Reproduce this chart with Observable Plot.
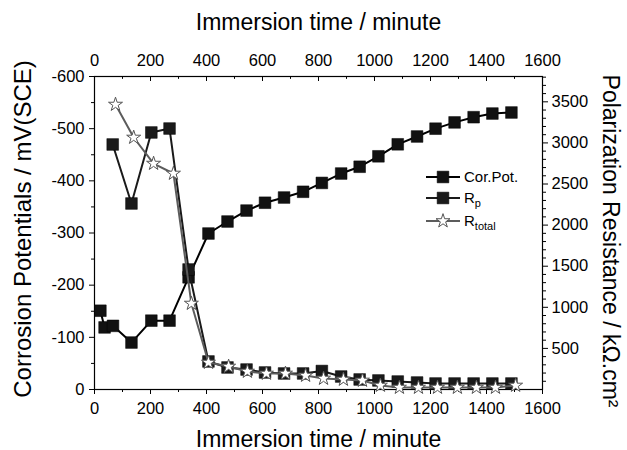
<!DOCTYPE html>
<html>
<head>
<meta charset="utf-8">
<script src="https://cdn.jsdelivr.net/npm/d3@7"></script>
<script src="https://cdn.jsdelivr.net/npm/@observablehq/plot@0.6"></script>
<style>
  html, body { margin: 0; padding: 0; background: #fff; }
  #wrap { position: relative; width: 627px; height: 450px; font-family: "Liberation Sans", Arial, sans-serif; }
  #legend { position: absolute; left: 424px; top: 166px; font-size: 15px; color: #000; }
  .row { position: absolute; left: 0; height: 20px; display: flex; align-items: center; white-space: nowrap; }
  .row svg { display: block; }
  .row span { margin-left: 4px; line-height: 20px; }
  sub { font-size: 11px; vertical-align: -4px; line-height: 0; }
</style>
</head>
<body>
<div id="wrap"></div>
<script>
// ---- data ----
const corTime = [21, 36, 66, 132, 203, 268, 336, 407, 475, 543, 609, 677, 745, 812, 881, 947, 1014, 1083, 1152, 1218, 1286, 1354, 1421, 1489];
const corPot  = [-151, -119, -122, -90, -132, -132, -215, -299, -322, -343, -358, -368, -379, -396, -414, -427, -447, -470, -485, -500, -512, -522, -529, -531];

const rpTime = [65, 132, 203, 268, 336, 407, 475, 543, 609, 677, 745, 812, 881, 947, 1014, 1083, 1152, 1218, 1286, 1354, 1421, 1489];
const rpVal  = [2981, 2263, 3127, 3175, 1460, 341, 268, 243, 207, 195, 195, 225, 158, 122, 110, 97, 85, 73, 73, 73, 73, 73];

const rtTime = [75, 140, 211, 282, 346, 407, 479, 546, 614, 682, 754, 818, 889, 957, 1021, 1089, 1157, 1225, 1296, 1364, 1432, 1504];
const rtVal  = [3467, 3066, 2749, 2628, 1046, 328, 280, 219, 195, 195, 170, 134, 122, 110, 49, 24, 24, 24, 24, 24, 24, 49];

const xTicks = [0, 200, 400, 600, 800, 1000, 1200, 1400, 1600];
const xMinorTicks = [100, 300, 500, 700, 900, 1100, 1300, 1500];
const leftTicks = [0, -100, -200, -300, -400, -500, -600];
const leftMinorTicks = [-50, -150, -250, -350, -450, -550];
const rightTicks = [500, 1000, 1500, 2000, 2500, 3000, 3500];
const rightMinorTicks = d3.range(100, 3801, 100).filter(v => v % 500 !== 0);

const xTitle = "Immersion time / minute";
const leftTitle = "Corrosion Potentials / mV(SCE)";
const rightTitle = "Polarization Resistance / kΩ.cm²";
const seriesNames = ["Cor.Pot.", "Rp", "Rtotal"];

// right axis domain mapped onto left scale
const rMin = 0, rMax = 3808;
const yTop = -600, yBottom = 0;
const toLeft = v => yTop * (v - rMin) / (rMax - rMin);
const fromLeft = y => rMin + (y / yTop) * (rMax - rMin);

const cor = corTime.map((t, i) => ({t, v: corPot[i]}));
const rp = rpTime.map((t, i) => ({t, v: toLeft(rpVal[i])}));
const rt = rtTime.map((t, i) => ({t, v: toLeft(rtVal[i])}));

const fs = 16.5;
const chart = Plot.plot({
  width: 627,
  height: 450,
  marginTop: 76,
  marginBottom: 61,
  marginLeft: 94,
  marginRight: 85,
  x: {domain: [0, 1600]},
  y: {domain: [yBottom, yTop]},
  style: {fontFamily: "'Liberation Sans', Arial, sans-serif", color: "#000", background: "#fff", overflow: "visible"},
  marks: [
    // bottom axis
    Plot.axisX({anchor: "bottom", ticks: xTicks, tickSize: 5, tickPadding: 8, tickFormat: d => String(d), fontSize: fs, label: null}),
    Plot.axisX({anchor: "bottom", ticks: xMinorTicks, tickSize: 3, tickFormat: () => "", label: null}),
    // top axis: labels, inward ticks
    Plot.axisX({anchor: "top", ticks: xTicks, tickSize: 0, tickPadding: 11, tickFormat: d => String(d), fontSize: fs, label: null}),
    Plot.ruleX(xTicks, {x: d => d, y1: yTop, y2: yTop + 9.6, stroke: "#000", strokeWidth: 1}),
    Plot.ruleX(xMinorTicks, {x: d => d, y1: yTop, y2: yTop + 5.5, stroke: "#000", strokeWidth: 1}),
    // left axis
    Plot.axisY({anchor: "left", ticks: leftTicks, tickSize: 5, tickPadding: 5, tickFormat: d => String(d), fontSize: fs, label: null}),
    Plot.axisY({anchor: "left", ticks: leftMinorTicks, tickSize: 3, tickFormat: () => "", label: null}),
    // right axis
    Plot.axisY({anchor: "right", ticks: rightTicks.map(toLeft), tickSize: 5, tickPadding: 4, tickFormat: d => String(Math.round(fromLeft(d))), fontSize: fs, label: null}),
    Plot.axisY({anchor: "right", ticks: rightMinorTicks.map(toLeft), tickSize: 3, tickFormat: () => "", label: null}),
    Plot.frame({stroke: "#000", strokeWidth: 1.2}),
    // series
    Plot.line(cor, {x: "t", y: "v", stroke: "#000", strokeWidth: 2}),
    Plot.dot(cor, {x: "t", y: "v", symbol: "square", r: 6.6, fill: "#111", stroke: "#000", strokeWidth: 0.5}),
    Plot.line(rp, {x: "t", y: "v", stroke: "#1a1a1a", strokeWidth: 2}),
    Plot.dot(rp, {x: "t", y: "v", symbol: "square", r: 6.6, fill: "#1a1a1a", stroke: "#000", strokeWidth: 0.5}),
    Plot.line(rt, {x: "t", y: "v", stroke: "#5c5c5c", strokeWidth: 2}),
    Plot.dot(rt, {x: "t", y: "v", symbol: "star", r: 4.4, fill: "#fff", stroke: "#555", strokeWidth: 1}),
    // titles
    Plot.text([xTitle], {text: d => d, frameAnchor: "top", dy: -47, fontSize: 23, lineAnchor: "bottom", textAnchor: "middle"}),
    Plot.text([xTitle], {text: d => d, frameAnchor: "bottom", dy: 57, fontSize: 23, lineAnchor: "bottom", textAnchor: "middle"}),
    Plot.text([leftTitle], {text: d => d, frameAnchor: "left", dx: -71, dy: -4, fontSize: 24, rotate: -90, lineAnchor: "middle", textAnchor: "middle"}),
    Plot.text([rightTitle], {text: d => d, frameAnchor: "right", dx: 68, dy: 8, fontSize: 23, rotate: 90, lineAnchor: "middle", textAnchor: "middle"})
  ]
});

const wrap = document.getElementById("wrap");
wrap.appendChild(chart);

// legend
const legend = document.createElement("div");
legend.id = "legend";
wrap.appendChild(legend);
const legendItems = [
  {name: seriesNames[0], html: "Cor.Pot.", stroke: "#000", fill: "#111", sym: "square", top: 1},
  {name: seriesNames[1], html: "R<sub>p</sub>", stroke: "#1a1a1a", fill: "#1a1a1a", sym: "square", top: 22},
  {name: seriesNames[2], html: "R<sub>total</sub>", stroke: "#5c5c5c", fill: "#fff", sym: "star", top: 45}
];
legendItems.forEach(it => {
  const row = document.createElement("div");
  row.className = "row";
  row.style.top = it.top + "px";
  const svg = d3.create("svg").attr("width", 36).attr("height", 20);
  svg.append("line").attr("x1", 2).attr("x2", 36).attr("y1", 10).attr("y2", 10).attr("stroke", it.stroke).attr("stroke-width", 2);
  const s = it.sym === "square" ? d3.symbol(d3.symbolSquare, Math.PI * 6.6 * 6.6) : d3.symbol(d3.symbolStar, Math.PI * 4.4 * 4.4);
  svg.append("path").attr("d", s()).attr("transform", "translate(19,10)")
    .attr("fill", it.fill).attr("stroke", it.sym === "star" ? "#555" : "#000").attr("stroke-width", it.sym === "star" ? 1 : 0.5);
  row.appendChild(svg.node());
  const sp = document.createElement("span");
  sp.innerHTML = it.html;
  row.appendChild(sp);
  legend.appendChild(row);
});
</script>
</body>
</html>
